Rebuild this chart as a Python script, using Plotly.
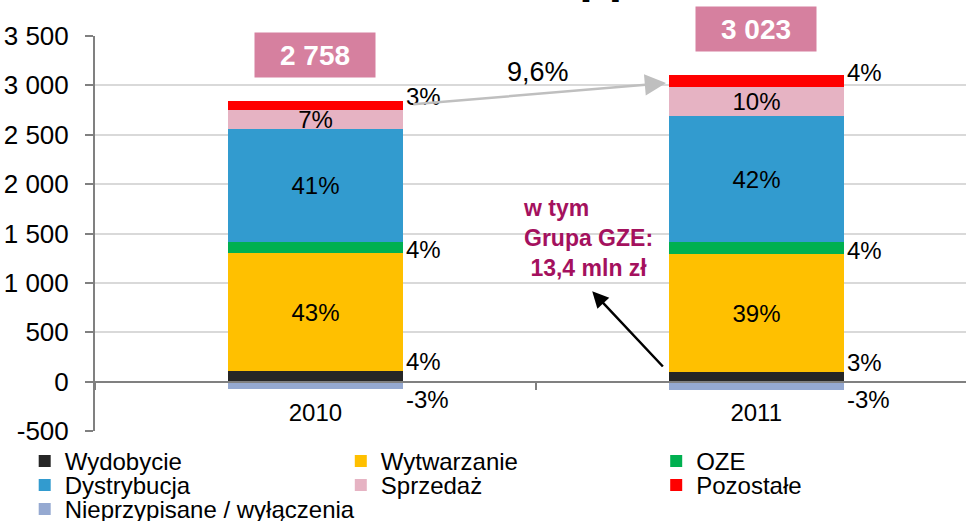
import plotly.graph_objects as go

# ---------------- data ----------------
years = ["2010", "2011"]
series_names = ["Wydobycie", "Wytwarzanie", "OZE", "Dystrybucja", "Sprzedaż",
                "Pozostałe", "Nieprzypisane / wyłączenia"]
wydobycie = [110, 102]
wytwarzanie = [1195, 1188]
oze = [110, 124]
dystrybucja = [1140, 1277]
sprzedaz = [192, 292]
pozostale = [90, 121]
nieprzypisane = [-79, -81]

y_tick_values = [-500, 0, 500, 1000, 1500, 2000, 2500, 3000, 3500]
y_tick_labels = ["-500", "0", "500", "1 000", "1 500", "2 000", "2 500", "3 000", "3 500"]

title_text = "Struktura EBITDA [%]"
gze_note = "w tym<br>Grupa GZE:<br>\u00a013,4 mln zł"

# ---------------- styling ----------------
values = [wydobycie, wytwarzanie, oze, dystrybucja, sprzedaz, pozostale, nieprzypisane]
colors = ["#262626", "#FFC000", "#00B050", "#329BCF", "#E6B3C3", "#FF0000", "#95A9D1"]
inside_label = [False, True, False, True, True, False, False]
# outside label placement: (which edge, pixel shift)
outside_anchor = {0: ("top", 9), 2: ("mid", -2), 5: ("mid", 9), 6: ("bottom", -10)}
# legend cell (row, col)
legend_cell = [(0, 0), (0, 1), (0, 2), (1, 0), (1, 1), (1, 2), (2, 0)]

FONT = "Liberation Sans, Arial, sans-serif"
BAR_W = 0.397
PLOT_L, PLOT_R, PLOT_T, PLOT_B = 95, 966, 35.5, 431.5
W, H = 966, 521
ph = PLOT_B - PLOT_T
pw = PLOT_R - PLOT_L

totals = [sum(v[i] for v in values) for i in range(len(years))]
pos_totals = [sum(v[i] for v in values if v[i] > 0) for i in range(len(years))]


def pct(v, t):
    return f"{round(v / t * 100):.0f}%"


def fmt_thousands(n):
    return f"{n:,}".replace(",", " ")


fig = go.Figure()
for k, (name, vals, col) in enumerate(zip(series_names, values, colors)):
    fig.add_trace(go.Bar(
        x=years, y=vals, name=name, marker=dict(color=col, line=dict(width=0)),
        width=BAR_W,
        text=[pct(v, t) for v, t in zip(vals, totals)] if inside_label[k] else None,
        textposition="inside" if inside_label[k] else "none",
        insidetextanchor="middle", constraintext="none",
        textfont=dict(family=FONT, size=24, color="black"),
        legend="legend" if k == 0 else f"legend{k + 1}",
        hoverinfo="name+y",
    ))

annotations = []
# outside percentage labels
for k, (where, shift) in outside_anchor.items():
    for i in range(len(years)):
        v = values[k][i]
        if v >= 0:
            base = sum(values[j][i] for j in range(k) if values[j][i] > 0)
        else:
            base = sum(values[j][i] for j in range(k) if values[j][i] < 0)
        if where in ("top", "bottom"):
            y = base + v
        else:
            y = base + v / 2
        annotations.append(dict(
            x=i + BAR_W / 2, y=y, xref="x", yref="y", text=pct(v, totals[i]),
            showarrow=False, xanchor="left", yanchor="middle", yshift=shift, xshift=1,
            font=dict(family=FONT, size=24, color="black")))

# total boxes
for i in range(len(years)):
    annotations.append(dict(
        x=i, y=pos_totals[i], xref="x", yref="y", text=f"<b>{fmt_thousands(totals[i])}</b>",
        showarrow=False, xanchor="center", yanchor="bottom", yshift=23,
        width=116, height=40, borderpad=2, bgcolor="#D6809F",
        font=dict(family=FONT, size=28, color="white")))

# growth arrow
growth = (totals[1] / totals[0] - 1) * 100
annotations.append(dict(
    x=1 - BAR_W / 2 - 0.006, y=pos_totals[1] - 80, ax=BAR_W / 2 + 0.02, ay=pos_totals[0] - 30,
    xref="x", yref="y", axref="x", ayref="y", text="", showarrow=True,
    arrowhead=2, arrowsize=1.7, arrowwidth=2.5, arrowcolor="#BFBFBF"))
annotations.append(dict(
    x=0.506, y=3132, xref="x", yref="y", text=f"{growth:.1f}%".replace(".", ","),
    showarrow=False, font=dict(family=FONT, size=27, color="black")))

# GZE note with arrow
annotations.append(dict(
    x=0.466, y=1459, xref="x", yref="y", text=f"<b>{gze_note}</b>", align="left",
    showarrow=False, xanchor="left", yanchor="middle",
    font=dict(family=FONT, size=23, color="#A4115E")))
annotations.append(dict(
    x=0.628, y=914, ax=1 - BAR_W / 2 - 0.01, ay=138,
    xref="x", yref="y", axref="x", ayref="y", text="", showarrow=True,
    arrowhead=2, arrowsize=1.3, arrowwidth=2.5, arrowcolor="black"))

# title (cut off at the top edge, as in the reference)
annotations.append(dict(
    x=(492 - PLOT_L) / pw, y=(PLOT_B - 3) / ph, xref="paper", yref="paper",
    text=f"<b>{title_text}</b>", showarrow=False, xanchor="center", yanchor="bottom",
    font=dict(family=FONT, size=25, color="black")))

# legends: one per cell
col_text_x = [64.7, 380.8, 696.2]
row_y = [462, 486, 510]
legends = {}
for k, (r, c) in enumerate(legend_cell):
    key = "legend" if k == 0 else f"legend{k + 1}"
    legends[key] = dict(
        x=(col_text_x[c] - 40 - PLOT_L) / pw, y=(PLOT_B - row_y[r]) / ph,
        xanchor="left", yanchor="middle", orientation="v",
        bgcolor="rgba(0,0,0,0)", borderwidth=0,
        font=dict(family=FONT, size=24, color="black"))

zero_pos = (0 - y_tick_values[0]) / (y_tick_values[-1] - y_tick_values[0])

fig.update_layout(
    width=W, height=H, barmode="relative", bargap=0,
    margin=dict(l=PLOT_L, r=W - PLOT_R, t=PLOT_T, b=H - PLOT_B, autoexpand=False),
    paper_bgcolor="white", plot_bgcolor="white",
    font=dict(family=FONT, size=24, color="black"),
    showlegend=True,
    annotations=annotations,
    xaxis=dict(
        type="category", range=[-0.5, 1.476],
        anchor="free", position=zero_pos,
        showline=True, linecolor="#808080", linewidth=2,
        ticks="outside", tickson="boundaries", ticklen=7, tickcolor="#808080", tickwidth=1.5,
        showgrid=False, zeroline=False, ticklabelstandoff=10,
        tickfont=dict(family=FONT, size=24, color="black"),
    ),
    yaxis=dict(
        range=[y_tick_values[0], y_tick_values[-1]],
        tickvals=y_tick_values, ticktext=y_tick_labels,
        showgrid=True, gridcolor="#D9D9D9", gridwidth=2,
        zeroline=False, showline=True, linecolor="#808080", linewidth=2,
        ticks="outside", ticklen=8, tickcolor="#808080", tickwidth=1.5,
        ticklabelstandoff=11,
        tickfont=dict(family=FONT, size=26, color="black"),
    ),
    **legends,
)

fig.write_html(
    "out.html",
    config={"displayModeBar": False},
    post_script="document.body.style.margin='0';document.body.style.overflow='hidden';",
)
